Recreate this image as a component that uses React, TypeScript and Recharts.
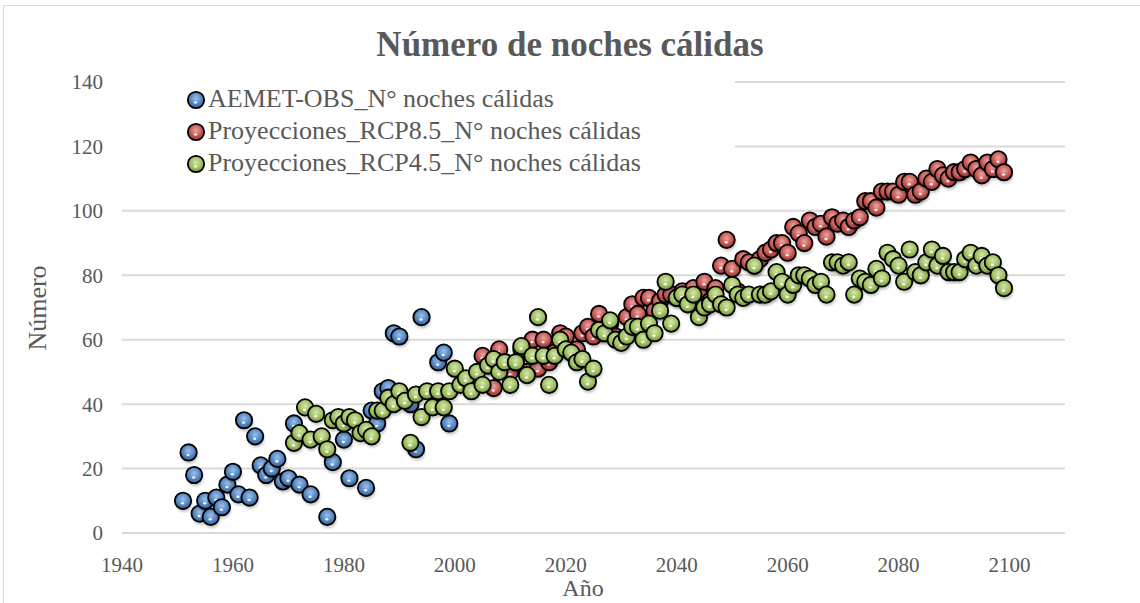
import { ScatterChart, Scatter, XAxis, YAxis, CartesianGrid } from "recharts";

// AEMET observations (years with a visible point)
const obsYears = [
  1951, 1952, 1953, 1954, 1955, 1956, 1957, 1958, 1959, 1960, 1961, 1962, 1963,
  1964, 1965, 1966, 1967, 1968, 1969, 1970, 1971, 1972, 1974, 1977, 1978, 1980,
  1981, 1984, 1985, 1986, 1987, 1988, 1989, 1990, 1992, 1993, 1994, 1997, 1998,
  1999,
];
const obsValues = [
  10, 25, 18, 6, 10, 5, 11, 8, 15, 19, 12, 35, 11, 30, 21, 18, 20, 23, 16, 17,
  34, 15, 12, 5, 22, 29, 17, 14, 38, 34, 44, 45, 62, 61, 40, 26, 67, 53, 56, 34,
];

// RCP8.5, one value per year from 2005
const rcp85Start = 2005;
const rcp85Values = [
  55, 52, 45, 57, 53, 50, 53, 57, 50, 60, 51, 60, 53, 56, 62, 61, 56, 57, 62, 64,
  61, 68, 62, 65, 61, 60, 67, 71, 68, 73, 73, 69, 72, 74, 74, 73, 75, 72, 76, 74,
  78, 72, 76, 83, 91, 82, 75, 85, 84, 83, 85, 87, 88, 90, 90, 87, 95, 93, 90, 97,
  95, 96, 92, 98, 96, 97, 95, 97, 98, 103, 103, 101, 106, 106, 106, 105, 109, 109,
  105, 106, 110, 109, 113, 111, 110, 112, 112, 113, 115, 113, 111, 115, 113, 116,
  112,
];

// RCP4.5, one value per year from 1971
const rcp45Start = 1971;
const rcp45Values = [
  28, 31, 39, 29, 37, 30, 26, 35, 36, 34, 36, 35, 31, 32, 30, 38, 38, 42, 40, 44,
  41, 28, 43, 36, 44, 39, 44, 39, 44, 51, 46, 48, 44, 50, 46, 52, 54, 50, 53, 46,
  53, 58, 49, 55, 67, 55, 46, 55, 60, 57, 56, 53, 54, 47, 51, 63, 62, 66, 60, 59,
  61, 64, 64, 60, 65, 62, 69, 78, 65, 73, 74, 71, 74, 67, 70, 71, 74, 71, 70, 77,
  74, 73, 74, 83, 74, 74, 75, 81, 78, 74, 77, 80, 80, 79, 77, 78, 74, 84, 84, 83,
  84, 74, 79, 78, 77, 82, 79, 87, 85, 83, 78, 88, 81, 80, 84, 88, 83, 86, 81, 81,
  81, 85, 87, 83, 86, 83, 84, 80, 76,
];

const xTicks = [1940, 1960, 1980, 2000, 2020, 2040, 2060, 2080, 2100];
const yTicks = [0, 20, 40, 60, 80, 100, 120, 140];

const obsData = obsYears.map((y, i) => ({ year: y, value: obsValues[i] }));
const rcp85Data = rcp85Values.map((v, i) => ({ year: rcp85Start + i, value: v }));
const rcp45Data = rcp45Values.map((v, i) => ({ year: rcp45Start + i, value: v }));

const FONT = "'Liberation Serif', 'Times New Roman', serif";
const TEXT = "#595959";

const series = [
  { name: "AEMET-OBS_N° noches cálidas", grad: "ballBlue" },
  { name: "Proyecciones_RCP8.5_N° noches cálidas", grad: "ballRed" },
  { name: "Proyecciones_RCP4.5_N° noches cálidas", grad: "ballGreen" },
];

function ball(grad: string) {
  return (props: any) => {
    const { cx, cy } = props;
    if (cx == null || cy == null) return <g />;
    return (
      <g>
        <circle cx={cx + 1} cy={cy + 3} r={8.5} fill="#000" opacity={0.2} filter="url(#ballShadow)" />
        <circle cx={cx} cy={cy} r={8.2} fill={`url(#${grad})`} stroke="#000" strokeWidth={1.8} />
        <ellipse cx={cx - 0.5} cy={cy + 2.4} rx={1.6} ry={1.2} fill="#fff" opacity={0.9} />
      </g>
    );
  };
}

function Grad({ id, light, base, dark }: { id: string; light: string; base: string; dark: string }) {
  return (
    <radialGradient id={id} cx="50%" cy="40%" r="60%">
      <stop offset="0%" stopColor={light} />
      <stop offset="65%" stopColor={base} />
      <stop offset="100%" stopColor={dark} />
    </radialGradient>
  );
}

export default function App() {
  return (
    <div style={{ position: "absolute", left: 0, top: 0, width: 1140, height: 603, background: "#fff", fontFamily: FONT }}>
      {/* chart frame (only top/left edges are inside the crop) */}
      <div style={{ position: "absolute", left: 3, top: 5, right: 0, bottom: 0, borderTop: "1.5px solid #d9d9d9", borderLeft: "1.5px solid #d9d9d9" }} />

      <ScatterChart width={1140} height={603} margin={{ top: 82, right: 75, bottom: 20, left: 62 }}>
        <defs>
          <Grad id="ballBlue" light="#9cc0ea" base="#4f81bd" dark="#34598a" />
          <Grad id="ballRed" light="#e8a5a3" base="#c0504d" dark="#8a3331" />
          <Grad id="ballGreen" light="#d3e6ae" base="#9bbb59" dark="#6e883b" />
          <filter id="ballShadow" x="-50%" y="-50%" width="200%" height="200%">
            <feGaussianBlur stdDeviation="1.3" />
          </filter>
        </defs>
        <CartesianGrid horizontal vertical={false} stroke="#d9d9d9" strokeWidth={2} />
        <XAxis
          type="number"
          dataKey="year"
          domain={[1940, 2110]}
          ticks={xTicks}
          interval={0}
          height={50}
          axisLine={false}
          tickLine={false}
          tickSize={0}
          tickMargin={24}
          tick={{ fill: TEXT, fontSize: 21, fontFamily: FONT }}
          allowDataOverflow
        />
        <YAxis
          type="number"
          dataKey="value"
          domain={[0, 140]}
          ticks={yTicks}
          interval={0}
          width={60}
          axisLine={false}
          tickLine={false}
          tickSize={0}
          tickMargin={19}
          tick={{ fill: TEXT, fontSize: 21, fontFamily: FONT }}
        />
        <Scatter name={series[0].name} data={obsData} shape={ball("ballBlue")} isAnimationActive={false} />
        <Scatter name={series[1].name} data={rcp85Data} shape={ball("ballRed")} isAnimationActive={false} />
        <Scatter name={series[2].name} data={rcp45Data} shape={ball("ballGreen")} isAnimationActive={false} />
      </ScatterChart>

      {/* title */}
      <div style={{ position: "absolute", zIndex: 5, left: 0, width: 1140, top: 25, textAlign: "center", fontSize: 35, fontWeight: "bold", color: TEXT }}>
        Número de noches cálidas
      </div>

      {/* legend, white box over the plot like Excel */}
      <div style={{ position: "absolute", zIndex: 5, left: 118, top: 72, width: 617, height: 108, background: "#ffffff" }}>
        {series.map((s, i) => (
          <div key={s.name} style={{ position: "absolute", left: 67, top: 27 + i * 32 - 15, height: 30, display: "flex", alignItems: "center", whiteSpace: "nowrap" }}>
            <svg width={21} height={22} style={{ marginRight: 2 }}>
              <circle cx={11} cy={12} r={8.2} fill={`url(#${s.grad})`} stroke="#000" strokeWidth={1.8} />
              <ellipse cx={10.5} cy={14.4} rx={1.6} ry={1.2} fill="#fff" opacity={0.9} />
            </svg>
            <span style={{ fontSize: 26, color: TEXT }}>{s.name}</span>
          </div>
        ))}
      </div>

      {/* axis titles */}
      <div style={{ position: "absolute", zIndex: 5, left: 38, top: 308, transform: "translate(-50%, -50%) rotate(-90deg)", fontSize: 26, color: TEXT, whiteSpace: "nowrap" }}>
        Número
      </div>
      <div style={{ position: "absolute", zIndex: 5, left: 583, top: 588, transform: "translate(-50%, -50%)", fontSize: 24, color: TEXT }}>
        Año
      </div>
    </div>
  );
}
